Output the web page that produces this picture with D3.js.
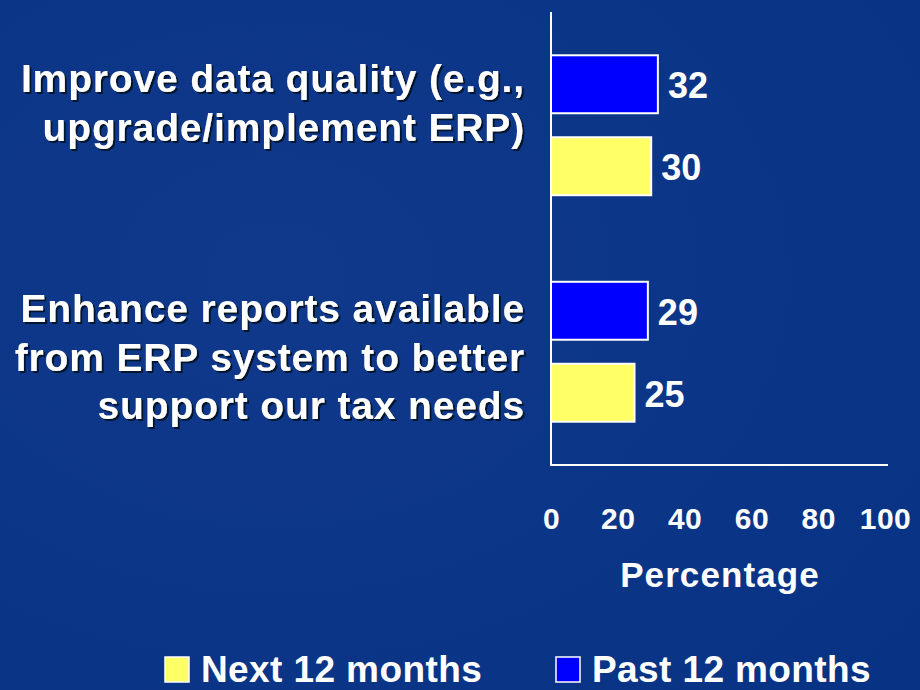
<!doctype html>
<html>
<head>
<meta charset="utf-8"/>
<title>ERP tax priorities</title>
<script src="https://d3js.org/d3.v7.min.js"></script>
<style>
body { margin:0; background:#0b3587; }
text { font-family: "Liberation Sans", Arial, sans-serif; font-weight: bold; }
</style>
</head>
<body>
<script>
// data
var categories = ["Improve data quality (e.g., upgrade/implement ERP)",
                  "Enhance reports available from ERP system to better support our tax needs"];
var labelLines = [["Improve data quality (e.g.,", "upgrade/implement ERP)"],
                  ["Enhance reports available", "from ERP system to better", "support our tax needs"]];
var seriesNames = ["Past 12 months", "Next 12 months"];
var pastValues = [32, 29];
var nextValues = [30, 25];
var tickValues = [0, 20, 40, 60, 80, 100];
var colors = {"Past 12 months": "#0000ff", "Next 12 months": "#ffff66"};

var W = 920, H = 690;
var svg = d3.select("body").append("svg").attr("width", W).attr("height", H);

// background + shadow filter
var defs = svg.append("defs");
var grad = defs.append("radialGradient").attr("id", "bg").attr("cx", "30%").attr("cy", "40%").attr("r", "90%");
grad.append("stop").attr("offset", "0%").attr("stop-color", "#10398c");
grad.append("stop").attr("offset", "100%").attr("stop-color", "#083284");
defs.append("filter").attr("id", "shadow").attr("x", "-5%").attr("y", "-20%").attr("width", "110%").attr("height", "140%")
  .append("feDropShadow").attr("dx", 2).attr("dy", 2).attr("stdDeviation", 0.4)
  .attr("flood-color", "#06122e").attr("flood-opacity", 1);
svg.append("rect").attr("width", W).attr("height", H).attr("fill", "url(#bg)");

var x = d3.scaleLinear().domain([0, 100]).range([551, 885]);
var y0 = d3.scaleBand().domain(categories).range([12, 465]).padding(0);
var y1 = d3.scaleBand().domain(seriesNames).range([0, y0.bandwidth()])
  .paddingInner(0.293).paddingOuter(0.528);

var rows = [];
categories.forEach(function(c, i) {
  rows.push({cat: c, s: "Past 12 months", v: pastValues[i]});
  rows.push({cat: c, s: "Next 12 months", v: nextValues[i]});
});

// bars
svg.selectAll("rect.bar").data(rows).enter().append("rect")
  .attr("class", "bar")
  .attr("x", x(0))
  .attr("y", function(d){ return y0(d.cat) + y1(d.s); })
  .attr("width", function(d){ return x(d.v) - x(0); })
  .attr("height", y1.bandwidth())
  .attr("fill", function(d){ return colors[d.s]; })
  .attr("stroke", "#ffffff")
  .attr("stroke-width", 2);

// value labels
svg.selectAll("text.val").data(rows).enter().append("text")
  .attr("class", "val")
  .attr("x", function(d){ return x(d.v) + 10; })
  .attr("y", function(d){ return y0(d.cat) + y1(d.s) + y1.bandwidth()/2 + 14; })
  .attr("fill", "#fff")
  .attr("font-size", 36)
  .text(function(d){ return d.v; });

// axes lines
svg.append("line").attr("x1", x(0)).attr("x2", x(0)).attr("y1", 12).attr("y2", 466)
  .attr("stroke", "#fff").attr("stroke-width", 2);
svg.append("line").attr("x1", x(0)).attr("x2", 888).attr("y1", 465).attr("y2", 465)
  .attr("stroke", "#fff").attr("stroke-width", 2);

// x tick labels via axis
var xAxis = svg.append("g").attr("transform", "translate(0,508)")
  .call(d3.axisBottom(x).tickValues(tickValues).tickSize(0).tickPadding(0));
xAxis.select(".domain").remove();
xAxis.selectAll("text").attr("fill", "#fff").attr("font-size", 30)
  .attr("font-family", "Liberation Sans, Arial, sans-serif").attr("font-weight", "bold")
  .attr("letter-spacing", 0.5);

svg.append("text").attr("x", 720).attr("y", 587).attr("text-anchor", "middle")
  .attr("fill", "#fff").attr("font-size", 35).attr("letter-spacing", 1.1).text("Percentage");

// category labels with shadow
var labelBase = [92, 322];
var lineH = 48.5;
labelLines.forEach(function(lines, i) {
  var t = svg.append("text").attr("text-anchor", "end").attr("fill", "#fff")
    .attr("font-size", 39).attr("letter-spacing", 0.85).attr("filter", "url(#shadow)");
  lines.forEach(function(s, j) {
    t.append("tspan").attr("x", 525).attr("y", labelBase[i] + j * lineH).text(s);
  });
});

// legend
var legendItems = [{s: "Next 12 months", x: 165}, {s: "Past 12 months", x: 556}];
var lg = svg.selectAll("g.leg").data(legendItems).enter().append("g")
  .attr("transform", function(d){ return "translate(" + d.x + ",657)"; });
lg.append("rect").attr("width", 24).attr("height", 25)
  .attr("fill", function(d){ return colors[d.s]; })
  .attr("stroke", "#fff").attr("stroke-width", 1.5);
lg.append("text").attr("x", 36).attr("y", 25).attr("fill", "#fff").attr("font-size", 37)
  .attr("letter-spacing", 0.4)
  .text(function(d){ return d.s; });
</script>
</body>
</html>
